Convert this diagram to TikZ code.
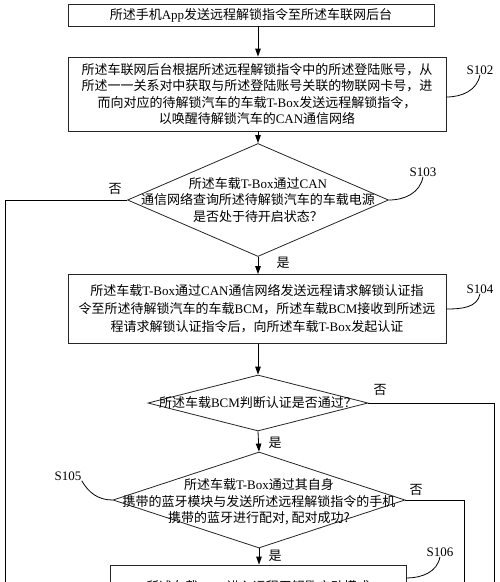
\documentclass[tikz,border=0pt]{standalone}
\usepackage{fontspec}
\setmainfont{Liberation Serif}
\newfontfamily\cjk{Noto Sans CJK SC}
\usetikzlibrary{arrows.meta,shapes.geometric}
\newcommand{\latn}[1]{{\rmfamily #1}}
\begin{document}
\begin{tikzpicture}[x=1pt,y=-1pt,line width=0.8pt]

     \tikzstyle{stepbox}=[rectangle,draw=black!85,inner sep=0pt,align=center,
        font=\cjk\fontsize{13}{16.5}\selectfont]
     \tikzstyle{decision}=[diamond,draw=black!85,inner sep=0pt,aspect=2]
     \tikzstyle{dectext}=[align=center,inner sep=0pt,font=\cjk\fontsize{13}{16.5}\selectfont]
     \tikzstyle{answer}=[inner sep=0pt,font=\cjk\fontsize{13}{15}\selectfont]
     \tikzstyle{steplabel}=[inner sep=0pt,font=\fontsize{13}{15}\selectfont]
     \tikzstyle{arr}=[-{Triangle[length=8pt,width=5.5pt]}]

      \useasboundingbox (0,0) rectangle (500,582);
      \clip (0,0) rectangle (500,582);
      \fill[white] (0,0) rectangle (500,582);

      \begin{scope}
         % steps
         \node[stepbox,minimum width=366pt,minimum height=22pt] (b1) at (251,15)
            {所述手机\latn{App}发送远程解锁指令至所述车联网后台};
         \node[stepbox,minimum width=378pt,minimum height=74pt] (b2) at (257,94)
            {所述车联网后台根据所述远程解锁指令中的所述登陆账号，从\\
             所述一一关系对中获取与所述登陆账号关联的物联网卡号，进\\
             而向对应的待解锁汽车的车载\latn{T-Box}发送远程解锁指令，\\
             以唤醒待解锁汽车的\latn{CAN}通信网络};

         \node[decision,minimum width=261pt,minimum height=113pt] (d1) at (258,200) {};
         \node[dectext] (t1) at (d1)
            {所述车载\latn{T-Box}通过\latn{CAN}\\
             通信网络查询所述待解锁汽车的车载电源\\
             是否处于待开启状态？};

         \node[stepbox,minimum width=378pt,minimum height=69pt,
            font=\cjk\fontsize{13}{18}\selectfont] (b3) at (257,309)
            {所述车载\latn{T-Box}通过\latn{CAN}通信网络发送远程请求解锁认证指\\
             令至所述待解锁汽车的车载\latn{BCM}，所述车载\latn{BCM}接收到所述远\\
             程请求解锁认证指令后，向所述车载\latn{T-Box}发起认证};

         \node[decision,minimum width=220pt,minimum height=56pt] (d2) at (258,403) {};
         \node[dectext] (t2) at (d2) {所述车载\latn{BCM}判断认证是否通过？};

         \node[decision,minimum width=292pt,minimum height=96pt] (d3) at (259,500) {};
         \node[dectext] (t3) at (259,502)
            {所述车载\latn{T-Box}通过其自身\\
             携带的蓝牙模块与发送所述远程解锁指令的手机\\
             携带的蓝牙进行配对, 配对成功?};

         \node[stepbox,minimum width=296pt,minimum height=44pt] (b4) at (258,587)
            {所述车载\latn{BCM}进入远程无钥匙启动模式};

         % main flow
         \draw[arr] (b1.south -| d1) to (b2.north -| d1);
         \draw[arr] (b2.south -| d1) to (d1.north);
         \draw[arr] (d1.south) to (b3.north -| d1);
         \draw[arr] (b3.south -| d1) to (d2.north);
         \draw[arr] (d2.south) to (d3.north);
         \draw[arr] (d3.south) to (b4.north -| d3);

         \node[answer] (y1) at (283,263) {是};
         \node[answer] (y2) at (275,443) {是};
         \node[answer] (y3) at (275,556) {是};

         % no branches
         \coordinate (n1) at (5,620);
         \coordinate (n2) at (494,620);
         \coordinate (n3) at (464,620);
         \draw (d1.west) -| (n1);
         \draw (d2.east) -| (n2);
         \draw (d3.east) -| (n3);

         \node[answer] (f1) at (115,189) {否};
         \node[answer] (f2) at (380,390) {否};
         \node[answer] (f3) at (416,490) {否};

         % step labels
         \node[steplabel] (s102) at (480,70) {S102};
         \node[steplabel] (s103) at (423,172) {S103};
         \node[steplabel] (s104) at (480,289) {S104};
         \node[steplabel] (s105) at (68,476) {S105};
         \node[steplabel] (s106) at (440,552) {S106};

         \draw (b2.east |- 0,97) to[out=0,in=-100] (s102.south);
         \draw (d1.east) to[out=0,in=-100] (s103.south);
         \draw (b3.east |- 0,309) to[out=0,in=-100] (s104.south);
         \draw (s105.south east) to[out=-60,in=180] (d3.west);
         \draw (b4.east |- 0,578) to[out=0,in=-100] (s106.south);

      \end{scope}
  \end{tikzpicture}
\end{document}
